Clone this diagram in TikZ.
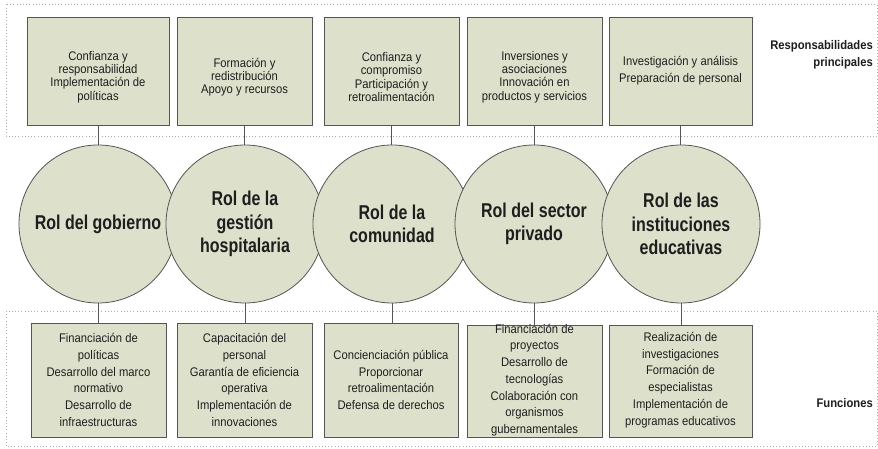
\documentclass[tikz,border=0pt]{standalone}
\usepackage{fontspec}
\setmainfont{Liberation Sans}
\newfontfamily\boxfont{Liberation Sans}[FakeStretch=0.9]
\newfontfamily\circfont{Liberation Sans}[FakeStretch=0.8]
\definecolor{boxfill}{RGB}{221,225,204}
\definecolor{edge}{RGB}{85,85,85}
\definecolor{txt}{RGB}{30,30,30}
\definecolor{dots}{RGB}{175,175,175}
\begin{document}
\begin{tikzpicture}[x=1pt,y=-1pt,
  frame/.style={draw=dots, line width=0.7pt, dash pattern=on 0.8pt off 2.4pt},
  box/.style={draw=edge, fill=boxfill, line width=0.8pt, inner sep=0pt, minimum height=#1},
  box/.default=108pt,
  toptxt/.style={text=txt, align=center, inner sep=0pt, font=\boxfont\fontsize{12.5}{13.3}\selectfont},
  bottxt/.style={text=txt, align=center, inner sep=0pt, font=\boxfont\fontsize{12.5}{16.7}\selectfont},
  role/.style={circle, draw=edge, fill=boxfill, line width=0.8pt, minimum size=158pt, inner sep=0pt,
    text=txt, align=center, font=\circfont\bfseries\fontsize{20}{23.3}\selectfont},
  link/.style={draw=edge, line width=0.8pt},
  sidelabel/.style={text=txt, align=right, anchor=east, inner sep=0pt, font=\boxfont\bfseries\fontsize{12.5}{16.7}\selectfont}]
\useasboundingbox (0,0) rectangle (878,449);
\fill[white] (0,0) rectangle (878,449);

% dotted frames
\draw[frame] (6,4.5) rectangle (877,136);
\draw[frame] (6,311) rectangle (877,446.5);

% top boxes
\node[box, minimum width=142pt] (t1) at (98,71) {};
\node[box, minimum width=135pt] (t2) at (244.5,71) {};
\node[box, minimum width=135pt] (t3) at (391.5,71) {};
\node[box, minimum width=135pt] (t4) at (534.5,71) {};
\node[box, minimum width=143pt] (t5) at (680.5,71) {};

\node[toptxt] (t1x) at (98,77) {Confianza y\\responsabilidad\\Implementación de\\políticas};
\node[toptxt] (t2x) at (244.5,77) {Formación y\\redistribución\\Apoyo y recursos};
\node[toptxt] (t3x) at (391.5,77) {Confianza y\\compromiso\\Participación y\\retroalimentación};
\node[toptxt] (t4x) at (534.5,77) {Inversiones y\\asociaciones\\Innovación en\\productos y servicios};
\node[bottxt] (t5x) at (680.5,71) {Investigación y análisis\\Preparación de personal};

% bottom boxes
\node[box=114pt, minimum width=135pt] (b1) at (98.5,380) {};
\node[box=114pt, minimum width=135pt] (b2) at (244.5,380) {};
\node[box=114pt, minimum width=134pt] (b3) at (391,380) {};
\node[box=112pt, minimum width=135pt] (b4) at (534.5,381) {};
\node[box=112pt, minimum width=143pt] (b5) at (680.5,381) {};

% circles
\node[role] (c1) at (98,224) {Rol del gobierno};
\node[role] (c2) at (245,224) {Rol de la\\gestión\\hospitalaria};
\node[role] (c3) at (392,224) {Rol de la\\comunidad};
\node[role] (c4) at (534,224) {Rol del sector\\privado};
\node[role] (c5) at (681,224) {Rol de las\\instituciones\\educativas};

% connectors
\foreach \i in {1,...,5}{
  \draw[link] (t\i.south) -- (t\i.south |- c\i.north);
  \draw[link] (c\i.south) -- (c\i.south |- b\i.north);
}

\node[bottxt] (b1x) at (98.5,380) {Financiación de\\políticas\\Desarrollo del marco\\normativo\\Desarrollo de\\infraestructuras};
\node[bottxt] (b2x) at (244.5,380) {Capacitación del\\personal\\Garantía de eficiencia\\operativa\\Implementación de\\innovaciones};
\node[bottxt] (b3x) at (391,380) {Concienciación pública\\Proporcionar\\retroalimentación\\Defensa de derechos};
\node[bottxt] (b4x) at (534.5,380) {Financiación de\\proyectos\\Desarrollo de\\tecnologías\\Colaboración con\\organismos\\gubernamentales};
\node[bottxt] (b5x) at (680.5,380) {Realización de\\investigaciones\\Formación de\\especialistas\\Implementación de\\programas educativos};

% side labels
\node[sidelabel] (lresp) at (873,55) {Responsabilidades\\principales};
\node[sidelabel] (lfun) at (873,403) {Funciones};
\end{tikzpicture}
\end{document}
